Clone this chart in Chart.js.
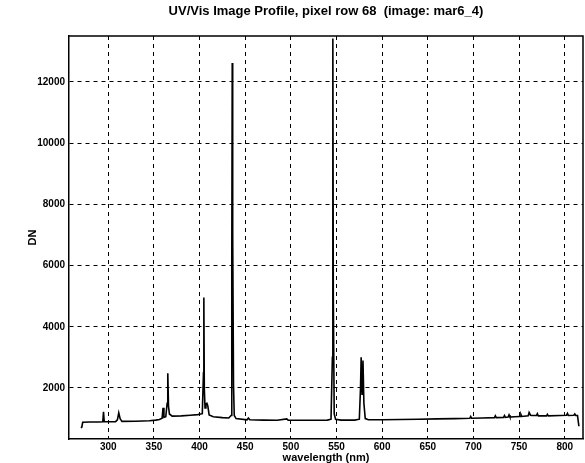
<!DOCTYPE html>
<html>
<head>
<meta charset="utf-8">
<script src="https://cdn.jsdelivr.net/npm/chart.js@4"></script>
<style>
html,body{margin:0;padding:0;background:#fff;}
#wrap{width:585px;height:463px;}
</style>
</head>
<body>
<div id="wrap"><canvas id="c" width="585" height="463"></canvas></div>
<script>
const chartTitle = "UV/Vis Image Profile, pixel row 68  (image: mar6_4)";
const xTitle = "wavelength (nm)";
const yTitle = "DN";
const xTickValues = [300, 350, 400, 450, 500, 550, 600, 650, 700, 750, 800];
const yTickValues = [2000, 4000, 6000, 8000, 10000, 12000];

const wavelengths = [
  270, 271, 272, 280, 290, 294, 294.8, 295.6, 300, 308,
  310, 311.5, 313, 315, 330, 345, 352, 356, 359, 360,
  361, 363, 364.5, 365.2, 366, 367, 370, 380, 390, 398,
  403, 404.3, 404.7, 405.2, 406, 407, 408, 409, 410.5, 415,
  425, 432, 434.5, 435.3, 435.8, 436.3, 437.2, 438, 440, 452,
  453.5, 455, 470, 485, 495.5, 497, 510, 530, 540, 544,
  545.5, 546, 546.5, 547.5, 549, 555, 570, 575, 576.3, 577,
  578, 579, 580, 581.5, 585, 600, 620, 640, 660, 680,
  696, 697, 698, 710, 723, 724, 725, 733, 734, 735,
  738, 739, 740, 745, 751, 752, 753, 760, 761, 762.5,
  764, 769, 770, 771, 780, 781, 782, 795, 802, 803,
  804, 810, 811, 812, 814, 815.5
];
const dnValues = [
  700, 720, 880, 890, 890, 895, 1220, 895, 895, 900,
  960, 1190, 1000, 910, 915, 930, 950, 970, 1010, 1350,
  1040, 1060, 1500, 2480, 1400, 1150, 1080, 1090, 1110, 1130,
  1160, 2500, 4960, 2000, 1350, 1480, 1500, 1420, 1120, 1060,
  1030, 1020, 1100, 6000, 12620, 7000, 2100, 1100, 1000, 960,
  1020, 960, 950, 945, 990, 950, 945, 945, 950, 980,
  3000, 13420, 5000, 1150, 980, 950, 950, 980, 2000, 3000,
  1800, 2900, 1500, 1000, 960, 960, 970, 980, 990, 1000,
  1010, 1070, 1010, 1020, 1030, 1090, 1030, 1040, 1100, 1040,
  1050, 1120, 1050, 1060, 1070, 1140, 1070, 1090, 1200, 1110,
  1100, 1100, 1160, 1090, 1090, 1140, 1090, 1100, 1110, 1170,
  1100, 1110, 1150, 1100, 1100, 750
];

const points = wavelengths.map((w, i) => ({x: w, y: dnValues[i]}));

const frame = {
  id: 'frame',
  beforeDatasetsDraw(chart) {
    const {ctx, chartArea: a} = chart;
    ctx.save();
    ctx.strokeStyle = '#000';
    ctx.lineWidth = 1.5;
    ctx.beginPath();
    ctx.moveTo(a.left, a.top);
    ctx.lineTo(a.right, a.top);
    ctx.lineTo(a.right, a.bottom);
    ctx.stroke();
    ctx.restore();
  }
};

const fam = "'Liberation Sans', Arial, sans-serif";
const font = {family: fam, size: 10, weight: 'bold'};

new Chart(document.getElementById('c'), {
  type: 'scatter',
  data: {
    datasets: [{
      data: points,
      showLine: true,
      borderColor: '#000',
      borderWidth: 1.6,
      pointRadius: 0,
      tension: 0,
      fill: false
    }]
  },
  options: {
    responsive: false,
    animation: false,
    events: [],
    layout: {padding: {left: 0, right: 2, top: 0, bottom: 0}},
    plugins: {
      legend: {display: false},
      tooltip: {enabled: false},
      title: {
        display: true,
        fullSize: false,
        text: chartTitle,
        color: '#000',
        font: {family: fam, size: 13, weight: 'bold', lineHeight: 1.2},
        padding: {top: 4, bottom: 16.4}
      }
    },
    scales: {
      x: {
        type: 'linear',
        min: 257,
        max: 820,
        afterBuildTicks: s => { s.ticks = xTickValues.map(v => ({value: v})); },
        afterFit: s => { s.height = 24; },
        grid: {color: '#000', lineWidth: 1, drawTicks: false},
        border: {display: true, color: '#000', width: 1.5, dash: [4, 4]},
        ticks: {color: '#000', font: font, padding: 2, maxRotation: 0, autoSkip: false,
          callback: v => String(v)},
        title: {display: true, text: xTitle, color: '#000',
          font: {family: fam, size: 11, weight: 'bold', lineHeight: 1},
          padding: {top: 0, bottom: 0}}
      },
      y: {
        type: 'linear',
        min: 333,
        max: 13500,
        afterBuildTicks: s => { s.ticks = yTickValues.map(v => ({value: v})); },
        afterFit: s => { s.width = 69; },
        grid: {color: '#000', lineWidth: 1, drawTicks: false},
        border: {display: true, color: '#000', width: 1.5, dash: [4, 4]},
        ticks: {color: '#000', font: font, padding: 4, autoSkip: false,
          callback: v => String(v)},
        title: {display: true, text: yTitle, color: '#000',
          font: {family: fam, size: 11, weight: 'bold', lineHeight: 1},
          padding: {top: 27, bottom: 0}}
      }
    }
  },
  plugins: [frame]
});
</script>
</body>
</html>
